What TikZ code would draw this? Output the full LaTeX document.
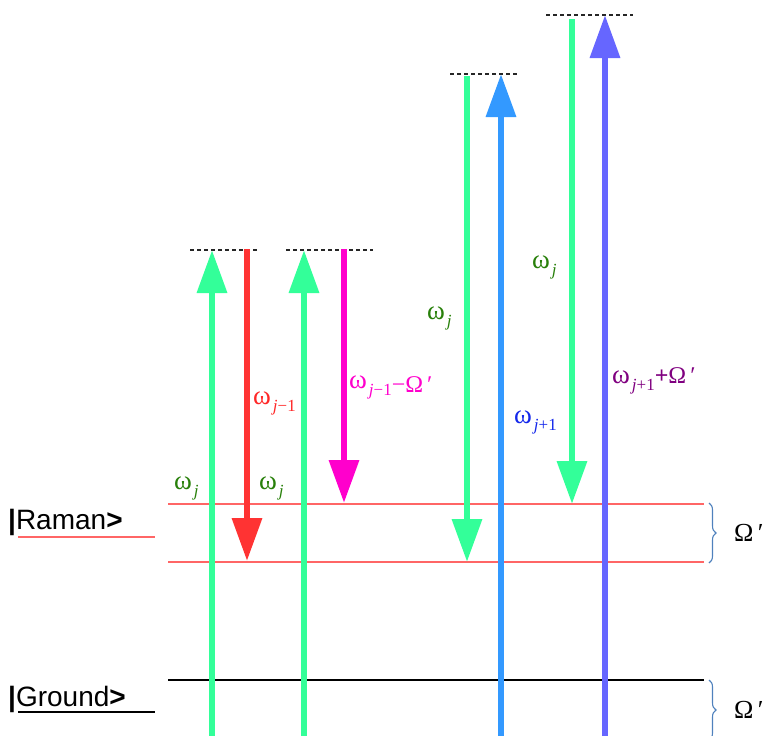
\documentclass[tikz,border=0pt]{standalone}
\usepackage{fontspec}
\setmainfont{Liberation Serif}
\newfontfamily\lsans{Liberation Sans}
\usetikzlibrary{arrows.meta,decorations.pathreplacing}
\definecolor{cgreen}{RGB}{51,255,153}
\definecolor{cred}{RGB}{255,51,51}
\definecolor{cmag}{RGB}{255,0,204}
\definecolor{cblue}{RGB}{51,153,255}
\definecolor{cpurp}{RGB}{102,102,255}
\definecolor{lvlred}{RGB}{255,102,102}
\definecolor{tgreen}{RGB}{40,128,10}
\definecolor{tred}{RGB}{255,40,40}
\definecolor{tmag}{RGB}{255,0,204}
\definecolor{tblue}{RGB}{20,40,235}
\definecolor{tpurp}{RGB}{128,0,128}
\definecolor{bracec}{RGB}{79,129,189}
\newcommand{\om}{{\fontsize{27}{27}\selectfont ω}}
\newcommand{\sbs}[1]{\hspace{2pt}\raisebox{-7pt}{\fontsize{17}{17}\selectfont #1}}
\tikzset{
  photon/.style={line width=6.5pt,-{Triangle[width=29pt,length=43pt]}},
  virt/.style={line width=2pt,color=black!85,dash pattern=on 4pt off 3pt},
  lbl/.style={anchor=base west,inner sep=0pt},
  brc/.style={decorate,decoration={brace,amplitude=7pt},draw=bracec,line width=1.1pt},
  ket/.style={anchor=base west,inner sep=0pt,font=\lsans\fontsize{28}{28}\selectfont},
}
\begin{document}
\begin{tikzpicture}[x=1pt,y=-1pt]
\useasboundingbox (0,0) rectangle (764,736);
% coordinates
\coordinate (g1b) at (212,742); \coordinate (g1t) at (212,250);
\coordinate (r1t) at (247,249); \coordinate (r1b) at (247,561);
\coordinate (g2b) at (304,742); \coordinate (g2t) at (304,250);
\coordinate (m1t) at (344,249); \coordinate (m1b) at (344,503);
\coordinate (g3t) at (467,76);  \coordinate (g3b) at (467,562);
\coordinate (b1b) at (501,742); \coordinate (b1t) at (501,74);
\coordinate (g4t) at (572,19);  \coordinate (g4b) at (572,504);
\coordinate (p1b) at (605,742); \coordinate (p1t) at (605,15);
% virtual levels
\coordinate (v1a) at (190,250); \coordinate (v1b) at (259,250);
\coordinate (v2a) at (286,250); \coordinate (v2b) at (373,250);
\coordinate (v3a) at (450,74);  \coordinate (v3b) at (519,74);
\coordinate (v4a) at (546,15);  \coordinate (v4b) at (633,15);
\draw[virt] (v1a) -- (v1b);
\draw[virt] (v2a) -- (v2b);
\draw[virt] (v3a) -- (v3b);
\draw[virt] (v4a) -- (v4b);
% real levels
\coordinate (ra1) at (168,504); \coordinate (ra2) at (704,504);
\coordinate (rb1) at (168,562); \coordinate (rb2) at (704,562);
\coordinate (gr1) at (168,680); \coordinate (gr2) at (704,680);
\draw[lvlred,line width=2pt] (ra1) -- (ra2);
\draw[lvlred,line width=2pt] (rb1) -- (rb2);
\draw[black,line width=2pt] (gr1) -- (gr2);
% arrows
\draw[photon,cgreen] (g1b) -- (g1t);
\draw[photon,cred] (r1t) -- (r1b);
\draw[photon,cgreen] (g2b) -- (g2t);
\draw[photon,cmag] (m1t) -- (m1b);
\draw[photon,cgreen] (g3t) -- (g3b);
\draw[photon,cblue] (b1b) -- (b1t);
\draw[photon,cgreen] (g4t) -- (g4b);
\draw[photon,cpurp] (p1b) -- (p1t);
% labels
\node[lbl,text=tgreen] (l1) at (174,489) {\om\sbs{\textit{j}}};
\node[lbl,text=tgreen] (l2) at (259,489) {\om\sbs{\textit{j}}};
\node[lbl,text=tred] (l3) at (253,404) {\om\sbs{\textit{j}−1}};
\node[lbl,text=tmag] (l4) at (349,388) {\om\sbs{\textit{j}−1}\raisebox{-4pt}{\fontsize{24}{24}\selectfont −Ω\,′}};
\node[lbl,text=tgreen] (l5) at (427,319) {\om\sbs{\textit{j}}};
\node[lbl,text=tgreen] (l6) at (532,268) {\om\sbs{\textit{j}}};
\node[lbl,text=tblue] (l7) at (514,423) {\om\sbs{\textit{j}+1}};
\node[lbl,text=tpurp] (l8) at (612,383) {\om\sbs{\textit{j}+1}{\fontsize{24}{24}\selectfont\bfseries +}{\fontsize{24}{24}\selectfont Ω\,′}};
% kets
\node[ket] (kr) at (8,529) {\textbf{|}Raman\textbf{>}};
\node[ket] (kg) at (8,706) {\textbf{|}Ground\textbf{>}};
\coordinate (ur1) at (18,537); \coordinate (ur2) at (155,537);
\coordinate (ug1) at (18,712); \coordinate (ug2) at (155,712);
\draw[lvlred,line width=2pt] (ur1) -- (ur2);
\draw[black,line width=2pt] (ug1) -- (ug2);
% braces
\coordinate (bra) at (709,503); \coordinate (brb) at (709,563);
\coordinate (bga) at (709,680); \coordinate (bgb) at (709,740);
\draw[brc] (bra) -- (brb);
\draw[brc] (bga) -- (bgb);
\node[lbl] (om1) at (734,541) {\fontsize{26}{26}\selectfont Ω\,′};
\node[lbl] (om2) at (734,718) {\fontsize{26}{26}\selectfont Ω\,′};
\end{tikzpicture}
\end{document}
